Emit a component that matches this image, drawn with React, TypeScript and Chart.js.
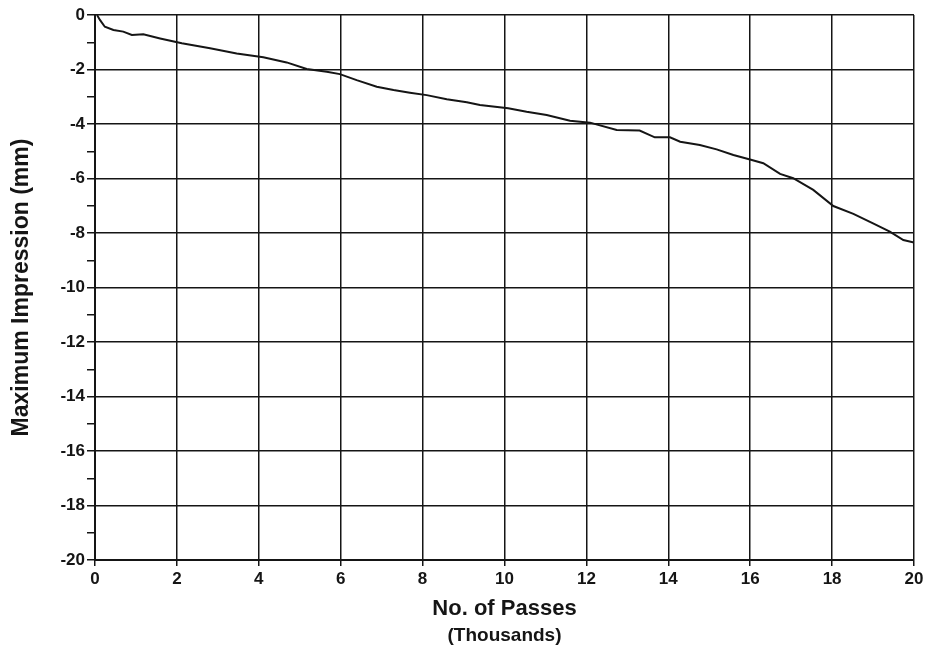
import React, { useEffect, useRef } from "react";
import { Chart, registerables } from "chart.js";

Chart.register(...registerables);

const passesThousands = [
  0.05, 0.12, 0.24, 0.45, 0.69, 0.9, 1.18, 1.59, 2.12, 2.81, 3.46, 4.11, 4.68,
  5.17, 5.66, 5.98, 6.39, 6.88, 7.29, 7.69, 8.1, 8.59, 9.08, 9.4, 10.09, 10.54,
  11.03, 11.6, 12.09, 12.74, 13.3, 13.67, 14.04, 14.29, 14.77, 15.18, 15.59,
  16.04, 16.32, 16.73, 17.05, 17.54, 18.03, 18.52, 19.0, 19.41, 19.74, 20.0,
];
const impressionMm = [
  0, -0.18, -0.43, -0.55, -0.61, -0.73, -0.71, -0.86, -1.04, -1.22, -1.41,
  -1.55, -1.74, -1.98, -2.08, -2.17, -2.39, -2.63, -2.75, -2.85, -2.94, -3.09,
  -3.2, -3.3, -3.42, -3.55, -3.67, -3.88, -3.95, -4.22, -4.24, -4.49, -4.49,
  -4.65, -4.77, -4.93, -5.14, -5.32, -5.44, -5.83, -5.99, -6.42, -7.01, -7.3,
  -7.65, -7.95, -8.26, -8.35,
];

const xTitle = "No. of Passes";
const xSubTitle = "(Thousands)";
const yTitle = "Maximum Impression (mm)";

const FONT = "'Liberation Sans', Arial, Helvetica, sans-serif";
const INK = "#151515";

const subTitlePlugin = {
  id: "xSubTitle",
  afterDraw(chart: any) {
    const { ctx, chartArea } = chart;
    const xs = chart.scales.x;
    ctx.save();
    ctx.font = `bold 19px ${FONT}`;
    ctx.fillStyle = INK;
    ctx.textAlign = "center";
    ctx.textBaseline = "middle";
    ctx.fillText(xSubTitle, (chartArea.left + chartArea.right) / 2, xs.bottom + 10);
    ctx.restore();
  },
};

export default function App() {
  const canvasRef = useRef<HTMLCanvasElement | null>(null);

  useEffect(() => {
    const canvas = canvasRef.current;
    if (!canvas) return;
    const chart = new Chart(canvas, {
      type: "line",
      data: {
        datasets: [
          {
            data: passesThousands.map((x, i) => ({ x, y: impressionMm[i] })),
            borderColor: INK,
            borderWidth: 2,
            pointRadius: 0,
            tension: 0,
            fill: false,
          },
        ],
      },
      plugins: [subTitlePlugin],
      options: {
        animation: false,
        responsive: true,
        maintainAspectRatio: false,
        layout: { padding: { left: 4, right: 15, top: 15, bottom: 30 } },
        plugins: {
          legend: { display: false },
          tooltip: { enabled: false },
        },
        scales: {
          x: {
            type: "linear",
            min: 0,
            max: 20,
            ticks: {
              stepSize: 2,
              color: INK,
              padding: 3,
              font: { family: FONT, size: 17, weight: "bold" },
            },
            grid: {
              color: INK,
              lineWidth: 1.5,
              tickLength: 6,
              tickColor: INK,
            },
            border: { display: true, color: INK, width: 2 },
            title: {
              display: true,
              text: xTitle,
              color: INK,
              font: { family: FONT, size: 22, weight: "bold" },
              padding: { top: 4, bottom: 3.8 },
            },
            afterFit: (scale: any) => {
              scale.height = 66;
            },
          },
          y: {
            type: "linear",
            min: -20,
            max: 0,
            ticks: {
              stepSize: 1,
              color: INK,
              padding: 2,
              autoSkip: false,
              font: { family: FONT, size: 17, weight: "bold" },
              callback: (v: any) => (Number(v) % 2 === 0 ? String(v) : ""),
            },
            grid: {
              color: (ctx: any) =>
                ctx.tick && Math.abs(ctx.tick.value) % 2 === 1
                  ? "rgba(0,0,0,0)"
                  : INK,
              lineWidth: 1.5,
              tickLength: 8,
              tickColor: INK,
            },
            border: { display: true, color: INK, width: 2 },
            title: {
              display: true,
              text: yTitle,
              color: INK,
              font: { family: FONT, size: 23, weight: "bold" },
              padding: { top: 4, bottom: 4 },
            },
            afterFit: (scale: any) => {
              scale.width = 91;
            },
          },
        },
      } as any,
    });
    return () => chart.destroy();
  }, []);

  return (
    <div
      style={{
        position: "fixed",
        left: 0,
        top: 0,
        width: 929,
        height: 656,
        background: "#fff",
      }}
    >
      <canvas ref={canvasRef} />
    </div>
  );
}
